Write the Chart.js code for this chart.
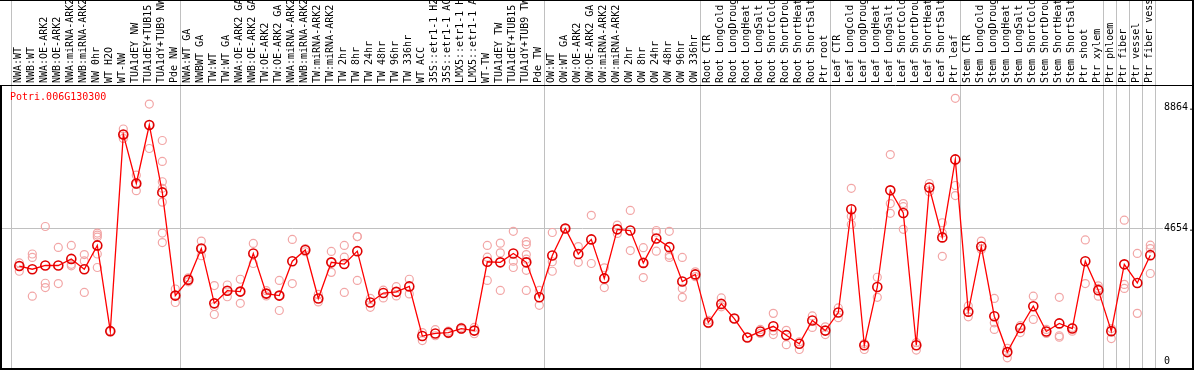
<!DOCTYPE html>
<html>
<head>
<meta charset="utf-8">
<script src="https://cdn.jsdelivr.net/npm/chart.js@4"></script>
<style>
  html, body { margin: 0; padding: 0; background: #fff; }
  #wrap { width: 1194px; height: 370px; }
</style>
</head>
<body>
<div id="wrap"><canvas id="exprChart" width="1194" height="370"></canvas></div>
<script>
const geneName = "Potri.006G130300";

const labels = [
  "NWA:WT", "NWB:WT", "NWA:OE-ARK2", "NWB:OE-ARK2", "NWA:miRNA-ARK2", "NWB:miRNA-ARK2",
  "NW 0hr", "WT H2O", "WT-NW", "TUA1dEY NW", "TUA1dEY+TUB15", "TUA1dY+TUB9 NW", "Pde NW",
  "NWA:WT GA", "NWBWT GA", "TW:WT", "TW:WT GA", "NWA:OE-ARK2 GA", "NWB:OE-ARK2 GA",
  "TW:OE-ARK2", "TW:OE-ARK2 GA", "NWA:miRNA-ARK2", "NWB:miRNA-ARK2", "TW:miRNA-ARK2", "TW:miRNA-ARK2",
  "TW 2hr", "TW 8hr", "TW 24hr", "TW 48hr", "TW 96hr", "TW 336hr", "WT ACC",
  "35S::etr1-1 H2", "35S::etr1-1 AC", "LMX5::etr1-1 H", "LMX5::etr1-1 A", "WT-TW",
  "TUA1dEY TW", "TUA1dEY+TUB15", "TUA1dY+TUB9 TW", "Pde TW",
  "OW:WT", "OW:WT GA", "OW:OE-ARK2", "OW:OE-ARK2 GA", "OW:miRNA-ARK2", "OW:miRNA-ARK2",
  "OW 2hr", "OW 8hr", "OW 24hr", "OW 48hr", "OW 96hr", "OW 336hr",
  "Root CTR", "Root LongCold", "Root LongDroug", "Root LongHeat", "Root LongSalt",
  "Root ShortCold", "Root ShortDrou", "Root ShortHeat", "Root ShortSalt", "Ptr root",
  "Leaf CTR", "Leaf LongCold", "Leaf LongDroug", "Leaf LongHeat", "Leaf LongSalt",
  "Leaf ShortCold", "Leaf ShortDrou", "Leaf ShortHeat", "Leaf ShortSalt", "Ptr leaf",
  "Stem CTR", "Stem LongCold", "Stem LongDroug", "Stem LongHeat", "Stem LongSalt",
  "Stem ShortCold", "Stem ShortDrou", "Stem ShortHeat", "Stem ShortSalt",
  "Ptr shoot", "Ptr xylem", "Ptr phloem", "Ptr fiber", "Ptr vessel", "Ptr fiber vess"
];

// mean expression per sample
const means = [
  3340, 3230, 3360, 3360, 3590, 3230, 4060, 1070, 7930, 6220,
  8260, 5910, 2310, 2860, 3950, 2040, 2480, 2450, 3780, 2380,
  2310, 3510, 3900, 2210, 3470, 3410, 3860, 2070, 2400, 2440,
  2630, 900, 990, 1020, 1160, 1090, 3490, 3470, 3780, 3470,
  2250, 3710, 4650, 3760, 4270, 2910, 4620, 4580, 3450, 4300,
  4000, 2800, 3050, 1370, 2020, 1510, 850, 1060, 1240, 930,
  630, 1440, 1090, 1720, 5320, 580, 2610, 5980, 5190, 580,
  6080, 4340, 7060, 1750, 4020, 1590, 340, 1180, 1940, 1060,
  1340, 1160, 3510, 2500, 1070, 3400, 2750, 3720
];

// individual replicates per sample
const replicates = [
  [3450, 3340, 3160], [3760, 3640, 2290], [4720, 2740, 2590], [3990, 2730],
  [4060, 3400, 3350], [3740, 3520, 2420], [4490, 4420, 4350, 3760, 3290], [1060, 1080],
  [8120, 7930, 7790], [6510, 6190, 5970], [8990, 8260, 7440],
  [7720, 6990, 6280, 6050, 5570, 4490, 4160], [2540, 2310, 2070],
  [2930, 2860, 2790], [4210, 3950, 3700], [2660, 1930, 1650], [2680, 2470, 2270],
  [2880, 2450, 2040], [4130, 3430], [2480, 2380, 2300], [2840, 2310, 1790],
  [4270, 2730], [3950, 3840], [2350, 2090], [3850, 3470, 3120], [4060, 3650, 2420],
  [4370, 4370, 2840], [2210, 1900], [2500, 2230], [2620, 2300], [2880, 2370],
  [1020, 740], [1120, 910], [1070, 980], [1200, 1130], [1200, 980],
  [4060, 3650, 2840], [4140, 3800, 2490], [4550, 3510, 3290],
  [4190, 4090, 3740, 3580, 3190, 2490], [2490, 1970],
  [4510, 3490, 3160], [4660, 4640], [4020, 3470], [5110, 3430], [3280, 2590],
  [4770, 4480], [5280, 3880], [3980, 3450, 2940], [4580, 4520, 3860],
  [4550, 3720, 3640], [3640, 2560, 2250], [3140, 2970],
  [1450, 1330], [2230, 1920], [1510], [850], [1130, 990], [1690, 1080, 950],
  [1100, 600], [700, 430], [1600, 1200], [1220, 950],
  [1880, 1540], [6050, 5080, 4790], [640, 430], [2950, 2250], [7230, 5520, 5180],
  [5520, 5410, 4620], [670, 410], [6220, 5930], [4850, 4490, 3680], [9190, 6150, 5800],
  [1950, 1570], [4210, 3920], [2210, 1360, 1130], [470, 140], [1260, 1020],
  [2290, 1480], [1130, 990], [2250, 910, 860], [1200, 1070],
  [4250, 2730], [2650, 2560, 2290], [1160, 810], [4940, 2700, 2560], [3780, 1690],
  [4070, 3950, 3080]
];

const yTicks = [0, 4654, 8864];
const yTickLabels = ["0", "4654.", "8864."];

// sample counts at which a group separator is drawn
const groupBreaks = [0, 13, 41, 53, 63, 73, 84, 85, 86, 87, 88];

// tiny line height keeps the axes from reserving half-label padding
const monoFont = { family: "'DejaVu Sans Mono', monospace", size: 10, lineHeight: 0.01 };

const meanPoints = means.map((v, i) => ({ x: i, y: v }));
const repPoints = [];
replicates.forEach((reps, i) => reps.forEach(v => repPoints.push({ x: i, y: v })));

const framePlugin = {
  id: "frame",
  beforeDatasetsDraw(chart) {
    const { ctx, scales: { x }, chartArea } = chart;
    ctx.save();
    ctx.strokeStyle = "#c0c0c0";
    ctx.lineWidth = 1;
    groupBreaks.forEach(k => {
      const px = Math.round(x.getPixelForValue(k - 0.64)) + 0.5;
      ctx.beginPath();
      ctx.moveTo(px, 0);
      ctx.lineTo(px, chartArea.bottom);
      ctx.stroke();
    });
    ctx.restore();
  },
  afterDraw(chart) {
    const { ctx, chartArea, width } = chart;
    ctx.save();
    ctx.strokeStyle = "#000";
    ctx.lineWidth = 1;
    ctx.beginPath();
    ctx.moveTo(0, 85.5);
    ctx.lineTo(width, 85.5);
    ctx.moveTo(0, 0.5);
    ctx.lineTo(width, 0.5);
    ctx.stroke();
    ctx.lineWidth = 2;
    ctx.beginPath();
    ctx.moveTo(1, 85);
    ctx.lineTo(1, 369);
    ctx.lineTo(1193, 369);
    ctx.moveTo(1193, 0);
    ctx.lineTo(1193, 370);
    ctx.stroke();

    ctx.fillStyle = "#ff0000";
    ctx.font = "10px 'DejaVu Sans Mono', monospace";
    ctx.textBaseline = "middle";
    ctx.textAlign = "left";
    ctx.fillText(geneName, chartArea.left + 8, chartArea.top + 11);
    ctx.restore();
  }
};

new Chart(document.getElementById("exprChart").getContext("2d"), {
  type: "line",
  data: {
    datasets: [
      {
        label: geneName,
        data: meanPoints,
        borderColor: "#ff0000",
        borderWidth: 1.3,
        tension: 0,
        pointRadius: 4.5,
        pointBorderWidth: 1.6,
        pointBorderColor: "#e00000",
        pointBackgroundColor: "rgba(255,255,255,0)",
        fill: false,
      },
      {
        label: "replicates",
        data: repPoints,
        showLine: false,
        pointRadius: 4,
        pointBorderWidth: 1.2,
        pointBorderColor: "#f2a6a6",
        pointBackgroundColor: "rgba(255,255,255,0)",
      },
    ],
  },
  options: {
    responsive: false,
    animation: false,
    devicePixelRatio: 1,
    layout: { autoPadding: false, padding: { left: 2, top: 0, right: 0, bottom: 1 } },
    plugins: {
      legend: { display: false },
      tooltip: { enabled: false },
    },
    scales: {
      x: {
        type: "linear",
        position: "top",
        bounds: "data",
        min: -1.331,
        max: 87.977,
        afterBuildTicks: (scale) => {
          scale.ticks = labels.map((_, i) => ({ value: i }));
        },
        afterFit: (scale) => {
          scale.height = 86;
          scale.paddingLeft = 0;
          scale.paddingRight = 0;
        },
        grid: { display: false, drawTicks: false },
        border: { display: false },
        ticks: {
          autoSkip: false,
          minRotation: 90,
          maxRotation: 90,
          padding: 3,
          labelOffset: -1,
          color: "#000",
          font: monoFont,
          callback: (v) => labels[v] ?? "",
        },
      },
      y: {
        type: "linear",
        position: "right",
        bounds: "data",
        min: -250,
        max: 9620,
        afterBuildTicks: (scale) => {
          scale.ticks = yTicks.map(v => ({ value: v }));
        },
        afterFit: (scale) => {
          scale.width = 31;
          scale.paddingTop = 0;
          scale.paddingBottom = 0;
        },
        grid: {
          drawTicks: false,
          color: (c) => (c.tick && c.tick.value === 4654 ? "#c0c0c0" : "rgba(0,0,0,0)"),
        },
        border: { display: false },
        ticks: {
          crossAlign: "near",
          padding: 1,
          color: "#000",
          font: monoFont,
          callback: (v) => yTickLabels[yTicks.indexOf(v)] ?? "",
        },
      },
    },
  },
  plugins: [framePlugin],
});
</script>
</body>
</html>
